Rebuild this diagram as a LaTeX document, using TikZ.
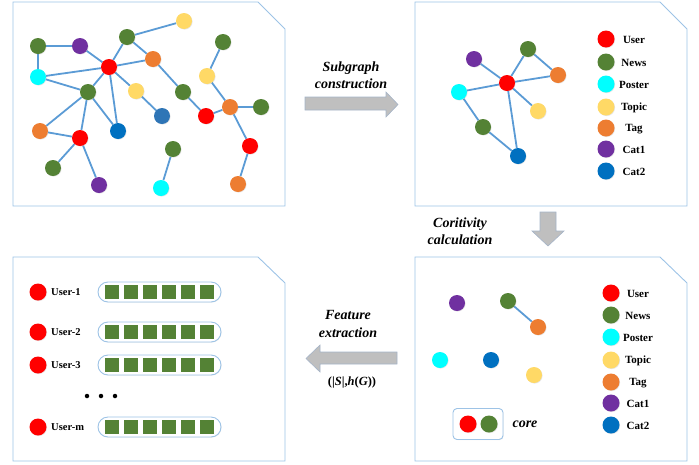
\documentclass[tikz,border=0pt]{standalone}
\usepackage{fontspec}
\setmainfont{Liberation Serif}
\usetikzlibrary{backgrounds,shadows}
\definecolor{cR}{HTML}{FF0000}
\definecolor{cG}{HTML}{548235}
\definecolor{cC}{HTML}{00FFFF}
\definecolor{cY}{HTML}{FFD966}
\definecolor{cO}{HTML}{ED7D31}
\definecolor{cP}{HTML}{7030A0}
\definecolor{cB}{HTML}{0070C0}
\definecolor{cB2}{HTML}{2E75B6}
\definecolor{edgec}{HTML}{5B9BD5}
\definecolor{panelc}{HTML}{9DC3E6}
\definecolor{arrowf}{HTML}{BFBFBF}
\definecolor{arrowd}{HTML}{A5B4C8}
\tikzset{
  vtx/.style={circle, minimum size=16pt, inner sep=0pt, fill=#1,
    drop shadow={opacity=0.2, shadow xshift=0.6pt, shadow yshift=-0.6pt}},
  lgc/.style={circle, minimum size=17pt, inner sep=0pt, fill=#1,
    drop shadow={opacity=0.2, shadow xshift=0.6pt, shadow yshift=-0.6pt}},
  lbl/.style={font=\fontsize{11}{13}\selectfont\bfseries, inner sep=0pt},
  ulbl/.style={font=\fontsize{10.5}{12}\selectfont\bfseries, inner sep=0pt, anchor=west},
  captext/.style={font=\fontsize{14}{16}\selectfont\bfseries\itshape, inner sep=0pt},
  lnk/.style={draw=edgec, line width=1.8pt},
  panel/.style={draw=panelc, line width=0.9pt},
  bigarrow/.style={fill=arrowf, draw=arrowd, line width=0.6pt},
  featbar/.style={draw=panelc, line width=0.9pt, rounded corners=10pt, fill=white,
    minimum width=123pt, minimum height=20pt, inner sep=0pt,
    drop shadow={opacity=0.15, shadow xshift=0.6pt, shadow yshift=-0.6pt}},
  featsq/.style={fill=cG, minimum size=14pt, inner sep=0pt}
}
\begin{document}
\begin{tikzpicture}[x=1pt,y=-1pt]
\useasboundingbox (0,0) rectangle (699,464);
% panels
\draw[panel] (13,2) -- (258,2) -- (285,29) -- (285,206) -- (13,206) -- cycle;
\draw[panel] (415,2) -- (660,2) -- (687,29) -- (687,206) -- (415,206) -- cycle;
\draw[panel] (415,257) -- (660,257) -- (687,283) -- (687,461) -- (415,461) -- cycle;
\draw[panel] (13,257) -- (258,257) -- (285,283) -- (285,461) -- (13,461) -- cycle;

% ---- panel 1 graph
\node[vtx=cG] (a1) at (38,46) {};
\node[vtx=cP] (a2) at (80,46) {};
\node[vtx=cY] (a3) at (184,21) {};
\node[vtx=cG] (a4) at (127,37) {};
\node[vtx=cR] (a5) at (109,67) {};
\node[vtx=cO] (a6) at (153,59) {};
\node[vtx=cC] (a7) at (38,77) {};
\node[vtx=cG] (a8) at (88,92) {};
\node[vtx=cY] (a9) at (136,91) {};
\node[vtx=cB2] (a10) at (162,116) {};
\node[vtx=cG] (a11) at (183,92) {};
\node[vtx=cR] (a12) at (206,116) {};
\node[vtx=cO] (a13) at (230,107) {};
\node[vtx=cG] (a14) at (261,107) {};
\node[vtx=cY] (a15) at (207,76) {};
\node[vtx=cG] (a16) at (223,42) {};
\node[vtx=cO] (a17) at (40,131) {};
\node[vtx=cR] (a18) at (80,138) {};
\node[vtx=cB] (a19) at (118,131) {};
\node[vtx=cG] (a20) at (53,168) {};
\node[vtx=cP] (a21) at (99,185) {};
\node[vtx=cG] (a22) at (173,149) {};
\node[vtx=cC] (a23) at (161,188) {};
\node[vtx=cR] (a24) at (250,146) {};
\node[vtx=cO] (a25) at (238,184) {};
\begin{scope}[on background layer]
\draw[lnk] (a1)--(a2) (a1)--(a7) (a2)--(a5) (a7)--(a5) (a7)--(a8)
  (a4)--(a3) (a4)--(a5) (a4)--(a6) (a5)--(a6) (a5)--(a8) (a5)--(a9)
  (a5)--(a19) (a9)--(a10) (a6)--(a11) (a11)--(a12) (a12)--(a13)
  (a13)--(a14) (a13)--(a15) (a15)--(a16) (a13)--(a24) (a24)--(a25)
  (a8)--(a17) (a8)--(a18) (a8)--(a19) (a17)--(a18) (a18)--(a20)
  (a18)--(a21) (a22)--(a23);
\end{scope}

% ---- panel 2 graph
\node[vtx=cP] (b1) at (474,59) {};
\node[vtx=cG] (b2) at (528,49) {};
\node[vtx=cO] (b3) at (558,75) {};
\node[vtx=cR] (b4) at (507,83) {};
\node[vtx=cC] (b5) at (459,92) {};
\node[vtx=cY] (b6) at (538,111) {};
\node[vtx=cG] (b7) at (483,127) {};
\node[vtx=cB] (b8) at (518,156) {};
\begin{scope}[on background layer]
\draw[lnk] (b1)--(b4) (b4)--(b2) (b2)--(b3) (b4)--(b3) (b4)--(b5)
  (b4)--(b6) (b4)--(b8) (b5)--(b7) (b7)--(b8);
\end{scope}
% legend 2
\node[lgc=cR] (l1) at (606,39) {};  \node[lbl] (t1) at (634,40) {User};
\node[lgc=cG] (l2) at (606,62) {};  \node[lbl] (t2) at (634,63) {News};
\node[lgc=cC] (l3) at (606,84) {};  \node[lbl] (t3) at (634,85) {Poster};
\node[lgc=cY] (l4) at (606,107) {}; \node[lbl] (t4) at (634,108) {Topic};
\node[lgc=cO] (l5) at (606,128) {}; \node[lbl] (t5) at (634,129) {Tag};
\node[lgc=cP] (l6) at (606,149) {}; \node[lbl] (t6) at (634,150) {Cat1};
\node[lgc=cB] (l7) at (606,171) {}; \node[lbl] (t7) at (634,172) {Cat2};

% ---- panel 3
\node[vtx=cP] (c1) at (457,303) {};
\node[vtx=cG] (c2) at (508,301) {};
\node[vtx=cO] (c3) at (538,327) {};
\node[vtx=cC] (c4) at (440,360) {};
\node[vtx=cB] (c5) at (491,360) {};
\node[vtx=cY] (c6) at (534,375) {};
\begin{scope}[on background layer]
\draw[lnk] (c2)--(c3);
\end{scope}
\node[lgc=cR] (m1) at (611,293) {}; \node[lbl] (s1) at (638,294) {User};
\node[lgc=cG] (m2) at (611,315) {}; \node[lbl] (s2) at (638,316) {News};
\node[lgc=cC] (m3) at (611,337) {}; \node[lbl] (s3) at (638,338) {Poster};
\node[lgc=cY] (m4) at (611,360) {}; \node[lbl] (s4) at (638,361) {Topic};
\node[lgc=cO] (m5) at (611,382) {}; \node[lbl] (s5) at (638,383) {Tag};
\node[lgc=cP] (m6) at (611,403) {}; \node[lbl] (s6) at (638,404) {Cat1};
\node[lgc=cB] (m7) at (611,425) {}; \node[lbl] (s7) at (638,426) {Cat2};
\node[draw=panelc, line width=0.9pt, rounded corners=4pt, fill=white,
  minimum width=50pt, minimum height=31pt,
  drop shadow={opacity=0.15, shadow xshift=0.6pt, shadow yshift=-0.6pt}] (corebox) at (478,424) {};
\node[lgc=cR] (k1) at (468,424) {};
\node[lgc=cG] (k2) at (489,424) {};
\node[captext] (coret) at (525,424) {core};

% ---- panel 4
\foreach \i/\y/\t in {1/292/User-1, 2/332/User-2, 3/365/User-3, 4/427/User-m}{
  \node[lgc=cR] (u\i) at (38,\y) {};
  \node[ulbl] (ut\i) at (51,\y) {\t};
  \node[featbar] (bar\i) at (159.5,\y) {};
  \foreach \k in {0,...,5}{
    \node[featsq] (sq\i\k) at (112+19*\k,\y) {};
  }
}
\foreach \x/\n in {87/1,101/2,115/3}{
  \node[circle, fill=black, minimum size=4.5pt, inner sep=0pt] (dot\n) at (\x,396) {};
}

% ---- big arrows
\draw[bigarrow] (305,97) -- (386,97) -- (386,92) -- (398,104.5) -- (386,117) -- (386,110) -- (305,110) -- cycle;
\draw[bigarrow] (540,212) -- (556,212) -- (556,231) -- (564,231) -- (548,246) -- (532,231) -- (540,231) -- cycle;
\draw[bigarrow] (397,352) -- (320,352) -- (320,345) -- (306,358.5) -- (320,372) -- (320,364) -- (397,364) -- cycle;

\node[captext] (h1) at (351,68) {Subgraph};
\node[captext] (h2) at (351,84) {construction};
\node[captext] (h3) at (460,224) {Coritivity};
\node[captext] (h4) at (460,240) {calculation};
\node[captext] (h5) at (348,315) {Feature};
\node[captext] (h6) at (348,333) {extraction};
\node[font=\fontsize{12.5}{14}\selectfont\bfseries, inner sep=0pt] (h7) at (352,383) {(|\textit{S}|,\textit{h}(\textit{G}))};
\end{tikzpicture}
\end{document}
